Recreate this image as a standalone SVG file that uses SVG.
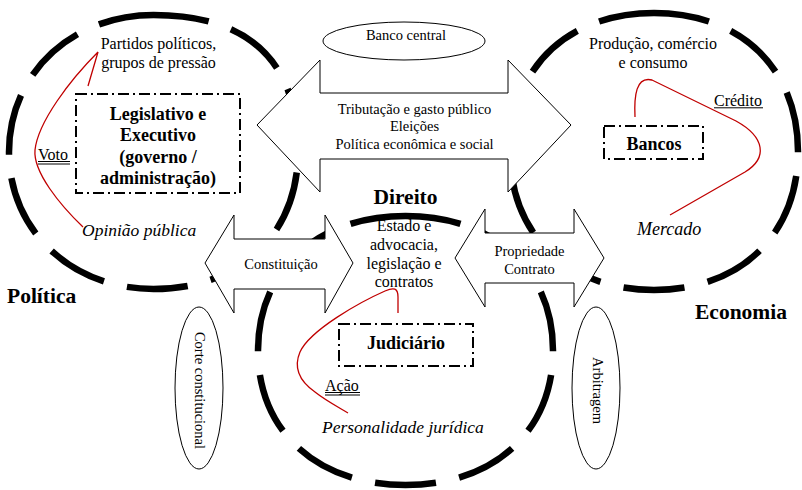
<svg xmlns="http://www.w3.org/2000/svg" width="802" height="490" viewBox="0 0 802 490">
<style>
text{font-family:"Liberation Serif","Times New Roman",serif;fill:#000}
.big{fill:none;stroke:#000;stroke-width:6.5;stroke-dasharray:68 26.4;stroke-dashoffset:6}
.arrow{fill:#fff;stroke:#000;stroke-width:1}
.oval{fill:#fff;stroke:#000;stroke-width:1}
.box{fill:none;stroke:#000;stroke-width:2;stroke-dasharray:11 4 2 4}
.red{fill:none;stroke:#c00000;stroke-width:1.3}
.s{font-size:14.5px}
.m{font-size:16px}
.b{font-size:18px;font-weight:bold}
.t{font-size:21.5px;font-weight:bold}
.i{font-size:17.5px;font-style:italic}
.ul{stroke:#000;stroke-width:1}
</style>
<rect width="802" height="490" fill="#fff"/>

<g id="politica">
<path class="big" pathLength="1000" d="M153.5,15 C248.9,15 298,61.6 298,152 C298,234.2 240.2,289 153.5,289 C71.1,289 9,230.1 9,152 C9,73.9 71.1,15 153.5,15 Z"/>
</g>
<g id="economia">
<path class="big" pathLength="1000" d="M654,13 C740.4,13 798,68.4 798,151.5 C798,234.6 740.4,290 654,290 C567.6,290 510,234.6 510,151.5 C510,68.4 567.6,13 654,13 Z"/>
</g>
<g id="direito">
<path class="big" pathLength="1000" d="M405.5,216 C494,216 553,269.8 553,350.5 C553,431.2 494,485 405.5,485 C317,485 258,431.2 258,350.5 C258,269.8 317,216 405.5,216 Z"/>
</g>

<g id="connectors">
<polygon class="arrow" points="257,125 320,60 320,93 508,93 508,60 571,125 508,192 508,159 320,159 320,192"/>
<polygon class="arrow" points="205,263 234,215 234,239 325,239 325,215 353,263 325,313 325,289 234,289 234,313"/>
<polygon class="arrow" points="455,258 485,209 485,233 574,233 574,209 604,258 574,307 574,283 485,283 485,307"/>
<text class="s" text-anchor="middle" x="414.5" y="113.5">Tributação e gasto público</text>
<text class="s" text-anchor="middle" x="414.5" y="131">Eleições</text>
<text class="s" text-anchor="middle" x="414.5" y="148.5">Política econômica e social</text>
<text class="s" text-anchor="middle" x="281" y="268.5">Constituição</text>
<text class="s" text-anchor="middle" x="529.5" y="255.5">Propriedade</text>
<text class="s" text-anchor="middle" x="529.5" y="273.5">Contrato</text>
</g>

<g id="banco-central">
<ellipse class="oval" cx="404" cy="41" rx="81" ry="19"/>
<text class="s" text-anchor="middle" x="406" y="39.5">Banco central</text>
</g>

<g id="corte-constitucional">
<ellipse class="oval" cx="199" cy="388" rx="24" ry="81"/>
<text class="s" text-anchor="middle" transform="translate(200,390.5) rotate(90)" x="0" y="5">Corte constitucional</text>
</g>

<g id="arbitragem">
<ellipse class="oval" cx="596" cy="388" rx="24" ry="81"/>
<text class="s" text-anchor="middle" transform="translate(597.5,390.5) rotate(90)" x="0" y="5">Arbitragem</text>
</g>

<g id="politica-labels">
<text class="m" text-anchor="middle" x="158.5" y="49">Partidos políticos,</text>
<text class="m" text-anchor="middle" x="158.5" y="67.5">grupos de pressão</text>
<path class="red" d="M88,86 L98,52 C70,80 38,122 35,150 C33,172 60,205 83,227"/>
<text class="m" x="38" y="159.5">Voto</text>
<line class="ul" x1="38" y1="161.5" x2="70" y2="161.5"/>
<line class="ul" x1="38" y1="164" x2="70" y2="164"/>
<text class="i" x="82" y="235.5">Opinião pública</text>
<text class="t" x="7" y="303">Política</text>
</g>

<g id="legislativo-executivo">
<rect class="box" x="76" y="94" width="164" height="99"/>
<text class="b" text-anchor="middle" x="158" y="120">Legislativo e</text>
<text class="b" text-anchor="middle" x="158" y="141">Executivo</text>
<text class="b" text-anchor="middle" x="158" y="162.5">(governo /</text>
<text class="b" text-anchor="middle" x="158" y="184">administração)</text>
</g>

<g id="economia-labels">
<text class="m" text-anchor="middle" x="653" y="49">Produção, comércio</text>
<text class="m" text-anchor="middle" x="653" y="67.5">e consumo</text>
<path class="red" d="M635,117 C634,96 636,76 652,80 L736,121 C765,137 768,158 745,172 L670,215"/>
<text class="m" x="714" y="106">Crédito</text>
<line class="ul" x1="714" y1="107.8" x2="763" y2="107.8"/>
<text class="i" x="637" y="234.5" style="font-size:18px">Mercado</text>
<text class="t" x="695" y="319">Economia</text>
</g>

<g id="bancos">
<rect class="box" x="604" y="126" width="99" height="33"/>
<text class="b" text-anchor="middle" x="654" y="150">Bancos</text>
</g>

<g id="direito-labels">
<text class="t" text-anchor="middle" x="405.5" y="204">Direito</text>
<text class="m" text-anchor="middle" x="404" y="231">Estado e</text>
<text class="m" text-anchor="middle" x="404" y="250">advocacia,</text>
<text class="m" text-anchor="middle" x="404" y="268.5">legislação e</text>
<text class="m" text-anchor="middle" x="404" y="287">contratos</text>
<path class="red" d="M398,313 L398,297 C398,288 394,287 385,291 C360,302 310,330 300,352 C294,366 298,380 315,392 C325,400 338,407 348,413"/>
<text class="m" x="325" y="391">Ação</text>
<line class="ul" x1="325" y1="392.5" x2="360" y2="392.5"/>
<line class="ul" x1="325" y1="395" x2="360" y2="395"/>
<text class="i" x="322" y="432.5">Personalidade jurídica</text>
</g>

<g id="judiciario">
<rect class="box" x="339" y="324" width="134" height="42"/>
<text class="b" text-anchor="middle" x="406" y="349">Judiciário</text>
</g>
</svg>
